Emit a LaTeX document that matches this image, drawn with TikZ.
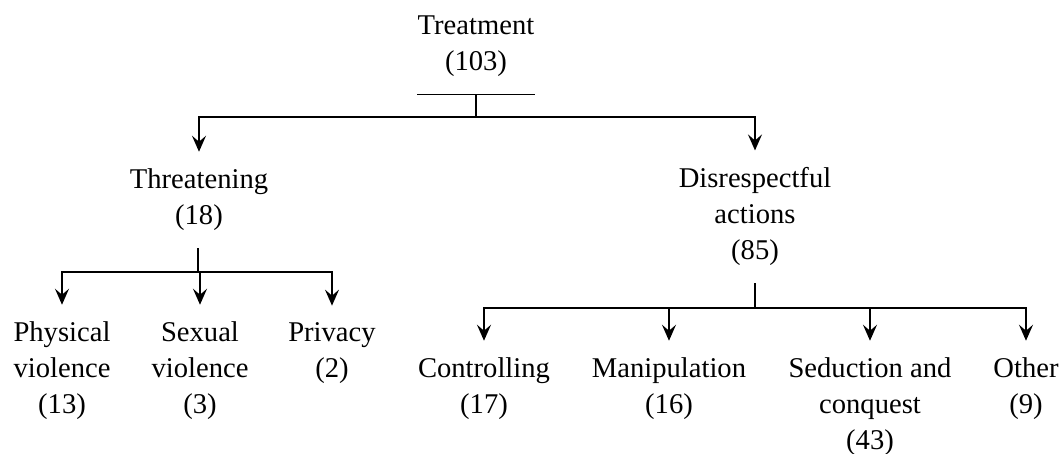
\documentclass[tikz,border=0pt]{standalone}
\usepackage{fontspec}
\setmainfont{Liberation Serif}
\usepackage{tikz}
\usetikzlibrary{arrows.meta,positioning}

\tikzset{
  cat/.style={align=center, anchor=base, inner xsep=0pt, inner ysep=8.5pt,
    font=\fontsize{14.3pt}{18pt}\selectfont},
  link/.style={line width=0.9pt},
  arr/.style={link, -{Stealth[length=8pt,width=7pt,inset=3pt]}}
}

\begin{document}
\begin{tikzpicture}[x=0.5pt,y=-0.5pt]
    \useasboundingbox (0,0) rectangle (1062,454);

    % Root (placed at the baseline of its last line)
    \node[cat] (treat) at (476,71) {Treatment\\(103)};

    % Second level
    \node[cat] (threat) at (199,225) {Threatening\\(18)};
    \node[cat] (disresp) at (755,260) {Disrespectful\\actions\\(85)};

    % Leaves under Threatening
    \node[cat] (phys) at (62,414) {Physical\\violence\\(13)};
    \node[cat] (sex) at (200,414) {Sexual\\violence\\(3)};
    \node[cat] (priv) at (332,378) {Privacy\\(2)};

    % Leaves under Disrespectful actions
    \node[cat] (ctrl) at (484,414) {Controlling\\(17)};
    \node[cat] (manip) at (669,414) {Manipulation\\(16)};
    \node[cat] (seduc) at (870,450) {Seduction and\\conquest\\(43)};
    \node[cat] (other) at (1026,414) {Other\\(9)};

    % Junctions
    \coordinate (hubA) at (476,117);
    \coordinate (hubB) at (198,272);
    \coordinate (hubC) at (755,308);

    % Connectors
    \draw[link] (treat.south west) -- (treat.south east);
    \draw[link] (treat.south) -- (hubA);
    \draw[arr] (hubA) -| (threat.north);
    \draw[arr] (hubA) -| (disresp.north);

    \draw[link] (threat.south -| hubB) -- (hubB);
    \draw[arr] (hubB) -| (phys.north);
    \draw[arr] (hubB) -| (sex.north);
    \draw[arr] (hubB) -| (priv.north);

    \draw[link] (disresp.south) -- (hubC);
    \draw[arr] (hubC) -| (ctrl.north);
    \draw[arr] (hubC) -| (manip.north);
    \draw[arr] (hubC) -| (seduc.north);
    \draw[arr] (hubC) -| (other.north);
\end{tikzpicture}
\end{document}
